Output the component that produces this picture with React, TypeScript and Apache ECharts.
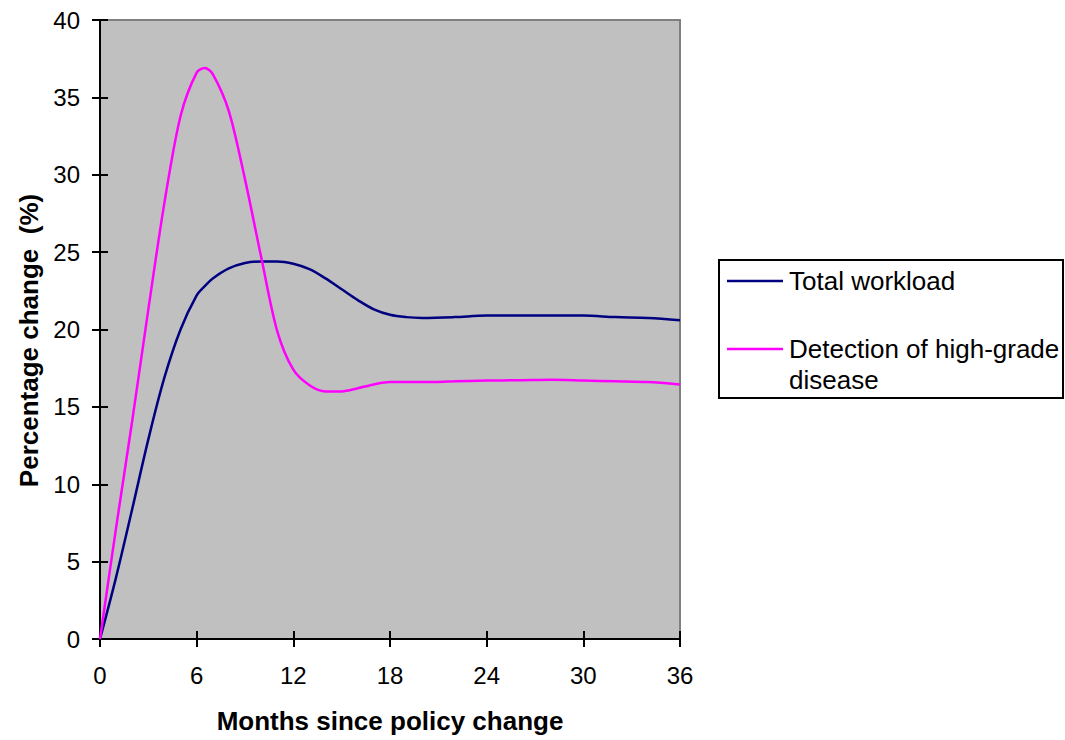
import { useEffect, useRef } from "react";
import * as echarts from "echarts";

const MONTHS = [0, 1, 2, 3, 4, 5, 6, 6.5, 7, 8, 9, 10, 11, 12, 13, 14, 15, 16, 17, 18, 19, 20, 22, 24, 26, 28, 30, 32, 34, 36];
const TOTAL_WORKLOAD = [0, 4.0, 8.4, 12.9, 16.9, 20.0, 22.2, 22.8, 23.3, 23.95, 24.3, 24.4, 24.4, 24.25, 23.9, 23.3, 22.6, 21.9, 21.3, 20.95, 20.8, 20.75, 20.8, 20.9, 20.9, 20.9, 20.9, 20.8, 20.75, 20.6];
const HIGH_GRADE = [0, 7.2, 14.1, 21.3, 28.2, 33.8, 36.6, 36.9, 36.5, 34.1, 29.7, 24.7, 19.9, 17.4, 16.4, 16.0, 16.0, 16.2, 16.45, 16.6, 16.6, 16.6, 16.65, 16.7, 16.72, 16.75, 16.7, 16.65, 16.6, 16.45];

const SERIES_NAMES = ["Total workload", "Detection of high-grade\ndisease"];
const COLORS = ["#000080", "#ff00ff"];

const FONT = "Liberation Sans, Arial, sans-serif";

export default function App() {
  const chartRef = useRef<HTMLDivElement>(null);

  useEffect(() => {
    if (!chartRef.current) return;
    const chart = echarts.init(chartRef.current, undefined, { renderer: "svg" });

    const axisLine = { lineStyle: { color: "#000", width: 2 } };
    const tick = (inside: boolean) => ({
      show: true,
      inside,
      length: 8,
      lineStyle: { color: "#000", width: 2 },
    });

    const option = {
      animation: false,
      backgroundColor: "#fff",
      grid: {
        left: 100,
        right: 385,
        top: 20,
        bottom: 101,
        show: true,
        backgroundColor: "#c0c0c0",
        borderColor: "#808080",
        borderWidth: 2,
      },
      xAxis: [
        {
          type: "value",
          min: 0,
          max: 36,
          interval: 6,
          position: "bottom",
          axisLine,
          axisTick: tick(false),
          splitLine: { show: false },
          axisLabel: { color: "#000", fontSize: 24, fontFamily: FONT, margin: 24 },
          name: "Months since policy change",
          nameLocation: "middle",
          nameGap: 82,
          nameTextStyle: {
            color: "#000",
            fontSize: 26,
            fontWeight: "bold",
            fontFamily: FONT,
            verticalAlign: "middle",
          },
        },
        {
          type: "value",
          min: 0,
          max: 36,
          interval: 6,
          position: "bottom",
          axisLine: { show: false },
          axisTick: tick(true),
          splitLine: { show: false },
          axisLabel: { show: false },
        },
      ],
      yAxis: [
        {
          type: "value",
          min: 0,
          max: 40,
          interval: 5,
          position: "left",
          axisLine: { show: true, ...axisLine },
          axisTick: tick(false),
          splitLine: { show: false },
          axisLabel: { color: "#000", fontSize: 24, fontFamily: FONT, margin: 20 },
          name: "Percentage change  (%)",
          nameLocation: "middle",
          nameGap: 71,
          nameRotate: 90,
          nameTextStyle: {
            color: "#000",
            fontSize: 26,
            fontWeight: "bold",
            fontFamily: FONT,
            verticalAlign: "middle",
            padding: [0, 22, 0, 0],
          },
        },
        {
          type: "value",
          min: 0,
          max: 40,
          interval: 5,
          position: "left",
          axisLine: { show: false },
          axisTick: tick(true),
          splitLine: { show: false },
          axisLabel: { show: false },
        },
      ],
      series: [
        {
          name: SERIES_NAMES[0],
          type: "line",
          smooth: 0.35,
          symbol: "none",
          data: MONTHS.map((m, i) => [m, TOTAL_WORKLOAD[i]]),
          lineStyle: { color: COLORS[0], width: 2.5 },
          itemStyle: { color: COLORS[0] },
        },
        {
          name: SERIES_NAMES[1],
          type: "line",
          smooth: 0.3,
          symbol: "none",
          data: MONTHS.map((m, i) => [m, HIGH_GRADE[i]]),
          lineStyle: { color: COLORS[1], width: 2.5 },
          itemStyle: { color: COLORS[1] },
        },
      ],
      graphic: [
        {
          type: "rect",
          shape: { x: 719, y: 260, width: 344, height: 138 },
          style: { fill: "#fff", stroke: "#000", lineWidth: 2 },
        },
        {
          type: "line",
          shape: { x1: 727, y1: 281, x2: 783, y2: 281 },
          style: { stroke: COLORS[0], lineWidth: 2.5 },
        },
        {
          type: "text",
          x: 789,
          y: 281,
          style: {
            text: SERIES_NAMES[0],
            fill: "#000",
            font: `26px ${FONT}`,
            verticalAlign: "middle",
          },
        },
        {
          type: "line",
          shape: { x1: 727, y1: 349, x2: 783, y2: 349 },
          style: { stroke: COLORS[1], lineWidth: 2.5 },
        },
        {
          type: "text",
          x: 789,
          y: 333.5,
          style: {
            text: SERIES_NAMES[1],
            fill: "#000",
            font: `26px ${FONT}`,
            lineHeight: 31,
            verticalAlign: "top",
          },
        },
      ],
    };

    chart.setOption(option);
    return () => chart.dispose();
  }, []);

  return (
    <div
      ref={chartRef}
      style={{ position: "fixed", left: 0, top: 0, width: 1065, height: 740 }}
    />
  );
}
